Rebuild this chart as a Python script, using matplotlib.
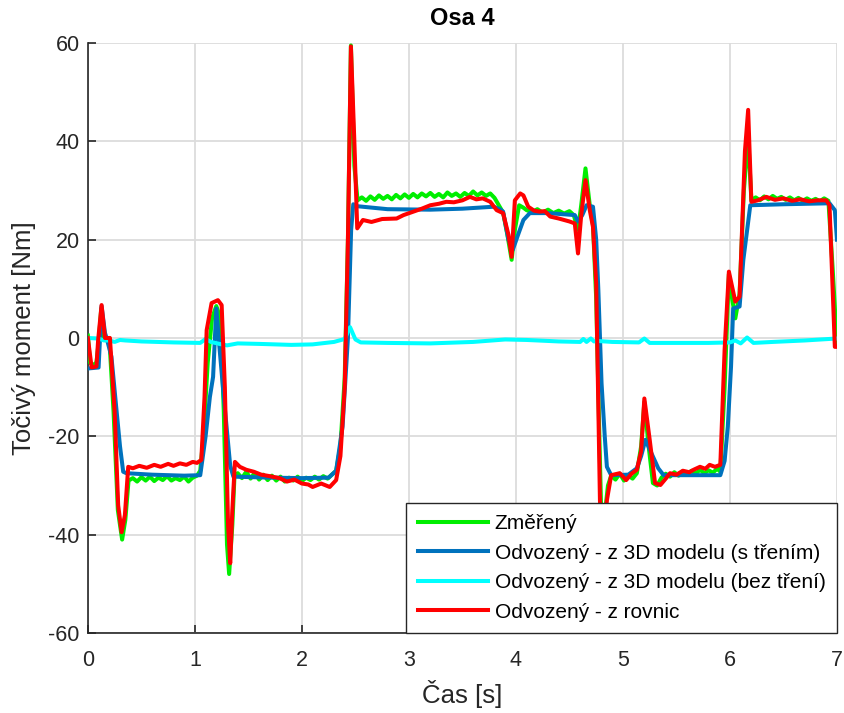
import matplotlib
matplotlib.use("Agg")
import matplotlib.pyplot as plt

plt.rcParams['font.family'] = ['Liberation Sans', 'DejaVu Sans']

title = "Osa 4"
xlabel = "Čas [s]"
ylabel = "Točivý moment [Nm]"
labels = ["Změřený", "Odvozený - z 3D modelu (s třením)",
          "Odvozený - z 3D modelu (bez tření)", "Odvozený - z rovnic"]
xticks = [0, 1, 2, 3, 4, 5, 6, 7]
yticks = [-60, -40, -20, 0, 20, 40, 60]

# Measured (green): (time [s], torque [Nm])
measured = [
    (0.00, 0.5), (0.02, -5.0), (0.05, -5.5), (0.08, -5.0), (0.10, -1.0), (0.125, 6.0),
    (0.15, 0.0), (0.20, 0.0), (0.24, -15.0), (0.28, -35.0), (0.32, -41.0), (0.35, -37.0),
    (0.38, -29.0), (0.42, -28.5), (0.46, -29.2), (0.50, -28.3), (0.54, -29.0), (0.58, -28.2),
    (0.62, -29.1), (0.66, -28.4), (0.70, -28.9), (0.74, -28.1), (0.78, -29.0), (0.82, -28.5),
    (0.86, -28.9), (0.90, -28.2), (0.94, -29.2), (0.98, -28.4), (1.02, -28.0), (1.05, -27.0),
    (1.08, -20.0), (1.12, -5.0), (1.16, 4.0), (1.20, 6.5), (1.24, 4.0), (1.27, -15.0),
    (1.30, -42.0), (1.32, -48.0), (1.35, -38.0), (1.37, -28.0), (1.40, -27.5), (1.44, -28.5),
    (1.48, -27.2), (1.52, -28.6), (1.56, -27.4), (1.60, -28.8), (1.64, -27.8), (1.68, -28.9),
    (1.72, -28.0), (1.76, -29.0), (1.80, -28.2), (1.84, -29.2), (1.88, -28.4), (1.92, -29.0),
    (1.96, -28.2), (2.00, -29.1), (2.04, -28.4), (2.08, -28.9), (2.12, -28.2), (2.16, -28.8),
    (2.20, -28.1), (2.24, -28.6), (2.28, -27.8), (2.32, -27.0), (2.36, -22.0), (2.40, -8.0),
    (2.43, 20.0), (2.458, 59.5), (2.49, 35.0), (2.52, 28.0), (2.56, 28.6), (2.60, 27.9),
    (2.64, 28.8), (2.68, 28.1), (2.72, 29.0), (2.76, 28.3), (2.80, 28.9), (2.84, 28.2),
    (2.88, 29.1), (2.92, 28.4), (2.96, 29.2), (3.00, 28.5), (3.04, 29.3), (3.08, 28.6),
    (3.12, 29.4), (3.16, 28.8), (3.20, 29.5), (3.24, 28.7), (3.28, 29.3), (3.32, 28.6),
    (3.36, 29.6), (3.40, 28.9), (3.44, 29.4), (3.48, 28.7), (3.52, 29.5), (3.56, 28.9),
    (3.60, 29.8), (3.64, 29.0), (3.68, 29.6), (3.72, 28.9), (3.76, 29.4), (3.80, 28.5),
    (3.84, 27.0), (3.88, 25.5), (3.92, 21.0), (3.96, 15.9), (3.99, 22.0), (4.03, 27.0),
    (4.07, 26.5), (4.10, 26.0), (4.15, 25.6), (4.20, 26.2), (4.25, 25.5), (4.30, 26.1),
    (4.35, 25.4), (4.40, 25.9), (4.45, 25.3), (4.50, 25.8), (4.54, 25.0), (4.58, 22.0),
    (4.61, 27.0), (4.65, 34.5), (4.69, 27.0), (4.72, 23.0), (4.75, 8.0), (4.785, -25.0),
    (4.80, -38.0), (4.83, -36.0), (4.86, -30.0), (4.89, -28.0), (4.93, -28.8), (4.97, -27.6),
    (5.01, -29.0), (5.05, -28.0), (5.09, -28.6), (5.13, -27.5), (5.17, -22.0), (5.20, -13.0),
    (5.24, -22.0), (5.28, -29.5), (5.32, -30.0), (5.36, -28.4), (5.40, -27.6), (5.44, -28.2),
    (5.48, -27.3), (5.52, -28.0), (5.56, -27.1), (5.60, -27.8), (5.64, -27.0), (5.68, -27.6),
    (5.72, -26.8), (5.76, -27.5), (5.80, -26.9), (5.84, -27.4), (5.88, -26.6), (5.91, -27.2),
    (5.95, -10.0), (5.99, 13.0), (6.02, 8.0), (6.05, 4.0), (6.09, 9.0), (6.13, 30.0),
    (6.17, 41.0), (6.20, 28.0), (6.24, 28.6), (6.28, 28.0), (6.32, 28.8), (6.36, 28.2),
    (6.40, 28.9), (6.44, 28.3), (6.48, 28.7), (6.52, 28.1), (6.56, 28.6), (6.60, 28.0),
    (6.64, 28.5), (6.68, 27.9), (6.72, 28.4), (6.76, 27.9), (6.80, 28.3), (6.84, 27.8),
    (6.88, 28.4), (6.92, 27.9), (6.96, 14.0), (7.00, -1.5),
]

# Derived from 3D model with friction (blue)
with_friction = [
    (0.00, -6.2), (0.10, -6.0), (0.128, 6.5), (0.16, 1.0), (0.175, 0.0), (0.22, -3.8),
    (0.26, -13.0), (0.30, -22.0), (0.33, -27.2), (0.36, -27.5), (0.60, -27.8), (0.90, -28.0),
    (1.05, -27.9), (1.10, -20.0), (1.14, -12.0), (1.17, -7.9), (1.20, 6.0), (1.23, -2.0),
    (1.27, -12.0), (1.30, -19.0), (1.33, -26.0), (1.36, -28.2), (1.70, -28.4), (2.00, -28.5),
    (2.25, -28.4), (2.32, -27.0), (2.38, -18.0), (2.43, 0.0), (2.46, 22.0), (2.48, 27.2),
    (2.52, 26.8), (2.80, 26.2), (3.20, 26.1), (3.50, 26.3), (3.79, 26.7), (3.85, 26.2),
    (3.88, 25.7), (3.93, 20.0), (3.97, 17.9), (4.02, 21.0), (4.07, 24.0), (4.13, 25.4),
    (4.30, 25.4), (4.55, 25.0), (4.58, 23.7), (4.62, 25.0), (4.66, 27.0), (4.72, 26.7),
    (4.75, 20.0), (4.77, 9.8), (4.80, -9.2), (4.83, -20.0), (4.85, -26.2), (4.89, -27.9),
    (5.05, -27.8), (5.13, -26.5), (5.17, -24.0), (5.21, -20.7), (5.28, -24.1), (5.33, -26.5),
    (5.38, -27.9), (5.91, -27.9), (5.95, -25.0), (5.98, -18.0), (6.01, -5.8), (6.03, 6.0),
    (6.09, 6.4), (6.125, 15.9), (6.19, 27.0), (6.50, 27.2), (6.93, 27.4), (6.98, 26.0),
    (7.00, 20.0),
]

# Derived from 3D model without friction (cyan)
without_friction = [
    (0.00, 0.0), (0.10, -0.1), (0.15, -0.5), (0.20, -0.5), (0.25, -0.8), (0.30, -0.4),
    (0.35, -0.5), (0.50, -0.7), (0.80, -0.9), (1.05, -1.0), (1.10, -0.2), (1.15, -0.8),
    (1.25, -1.3), (1.30, -1.5), (1.40, -1.1), (1.60, -1.2), (1.90, -1.4), (2.10, -1.3),
    (2.30, -0.8), (2.40, -0.2), (2.45, 2.2), (2.50, -0.3), (2.55, -0.9), (2.80, -1.0),
    (3.20, -1.1), (3.60, -0.8), (3.90, -0.3), (4.10, -0.4), (4.40, -0.7), (4.60, -0.8),
    (4.63, -0.2), (4.66, -0.8), (4.70, -0.1), (4.73, -0.7), (4.76, -0.6), (4.90, -0.8),
    (5.15, -0.9), (5.20, -0.1), (5.25, -1.0), (5.50, -1.0), (5.80, -1.0), (6.00, -0.9),
    (6.05, -0.5), (6.10, -1.1), (6.16, 0.1), (6.22, -1.0), (6.40, -0.8), (6.70, -0.5),
    (7.00, -0.1),
]

# Derived from equations (red)
from_equations = [
    (0.00, 0.0), (0.035, -6.0), (0.08, -5.8), (0.096, -0.4), (0.128, 6.7), (0.16, 0.0),
    (0.206, 0.0), (0.25, -15.0), (0.283, -34.0), (0.315, -39.5), (0.346, -36.0),
    (0.377, -26.2), (0.42, -26.5), (0.48, -26.0), (0.55, -26.4), (0.62, -25.8), (0.68, -26.2),
    (0.75, -25.6), (0.80, -26.0), (0.86, -25.5), (0.92, -25.8), (0.98, -25.2), (1.02, -25.4),
    (1.06, -24.8), (1.09, -12.0), (1.11, 1.6), (1.156, 7.1), (1.215, 7.7), (1.25, 6.7),
    (1.28, -10.0), (1.31, -38.0), (1.33, -45.8), (1.35, -35.0), (1.374, -25.2), (1.42, -26.2),
    (1.48, -26.8), (1.55, -27.2), (1.62, -27.8), (1.70, -28.1), (1.79, -28.5), (1.86, -29.2),
    (1.93, -28.8), (2.00, -29.6), (2.06, -29.8), (2.10, -30.3), (2.18, -29.6), (2.26, -30.3),
    (2.32, -28.9), (2.36, -24.0), (2.40, -10.0), (2.43, 20.0), (2.458, 59.3), (2.49, 40.0),
    (2.517, 22.3), (2.57, 24.0), (2.65, 23.6), (2.75, 24.2), (2.885, 24.3), (2.95, 25.0),
    (3.04, 25.7), (3.12, 26.3), (3.20, 27.0), (3.28, 27.3), (3.35, 27.7), (3.42, 27.6),
    (3.50, 28.0), (3.57, 28.7), (3.63, 28.2), (3.69, 28.4), (3.76, 27.7), (3.82, 26.0),
    (3.88, 25.4), (3.93, 21.0), (3.96, 16.5), (3.99, 28.0), (4.04, 29.4), (4.07, 29.0),
    (4.115, 26.7), (4.17, 25.9), (4.22, 25.7), (4.27, 25.8), (4.32, 24.7), (4.40, 24.3),
    (4.50, 23.7), (4.55, 23.3), (4.58, 17.2), (4.61, 25.0), (4.65, 32.1), (4.69, 26.0),
    (4.72, 22.6), (4.75, 11.0), (4.785, -33.0), (4.80, -40.0), (4.83, -38.0), (4.85, -33.0),
    (4.89, -27.9), (4.97, -27.5), (5.03, -28.9), (5.08, -27.6), (5.13, -26.8), (5.17, -23.0),
    (5.20, -12.3), (5.25, -20.7), (5.30, -29.5), (5.35, -29.9), (5.40, -28.6), (5.44, -27.5),
    (5.50, -27.8), (5.56, -27.0), (5.62, -27.3), (5.66, -26.8), (5.72, -26.2), (5.77, -26.6),
    (5.81, -25.8), (5.86, -26.2), (5.91, -25.8), (5.95, -2.4), (5.99, 13.5), (6.05, 7.4),
    (6.09, 8.4), (6.14, 38.0), (6.17, 46.4), (6.20, 27.7), (6.26, 28.0), (6.34, 28.7),
    (6.42, 28.1), (6.50, 28.4), (6.58, 27.9), (6.66, 28.2), (6.74, 27.8), (6.82, 28.0),
    (6.90, 28.0), (6.93, 27.0), (6.98, -1.8), (7.00, -1.8),
]

series = [measured, with_friction, without_friction, from_equations]
colors = ['#00ee00', '#0072bd', '#00ffff', '#ff0000']

fig = plt.figure(figsize=(8.45, 7.13), dpi=100)
ax = fig.add_axes([0.104, 0.1122, 0.8865, 0.8275])

lw = 2.9
for i, (data, c, lab) in enumerate(zip(series, colors, labels)):
    ts = [p[0] for p in data]
    vs = [p[1] for p in data]
    ax.plot(ts, vs, color=c, lw=lw, label=lab, zorder=3 + i)

ax.set_xlim(0, 7)
ax.set_ylim(-60, 60)
ax.set_xticks(xticks)
ax.set_yticks(yticks)
ax.set_xticklabels([str(x) for x in xticks])
ax.set_yticklabels([str(y) for y in yticks])
ax.grid(True, color='#dcdcdc', lw=1.3, zorder=0)
ax.set_axisbelow(True)
for s in ['top', 'right']:
    ax.spines[s].set_visible(False)
for s in ['left', 'bottom']:
    ax.spines[s].set_color('#262626')
    ax.spines[s].set_linewidth(1.2)
ax.tick_params(direction='in', length=6, width=1.2, color='#262626',
               labelsize=15.5, labelcolor='#262626')
ax.tick_params(axis='x', pad=12)
ax.tick_params(axis='y', pad=6)

ax.set_title(title, fontsize=17, fontweight='bold', pad=13)
ax.set_xlabel(xlabel, fontsize=18.5, color='#262626', labelpad=7)
ax.set_ylabel(ylabel, fontsize=18.5, color='#262626', labelpad=9)

leg = ax.legend(loc='lower right', bbox_to_anchor=(1.0, 0.0), borderaxespad=0.0,
                fontsize=15, handlelength=3.4, handletextpad=0.3, labelspacing=0.5,
                borderpad=0.55, fancybox=False, framealpha=1.0, edgecolor='#262626')
leg.get_frame().set_linewidth(1.0)
leg.set_zorder(10)

fig.savefig("out.png", dpi=100)
